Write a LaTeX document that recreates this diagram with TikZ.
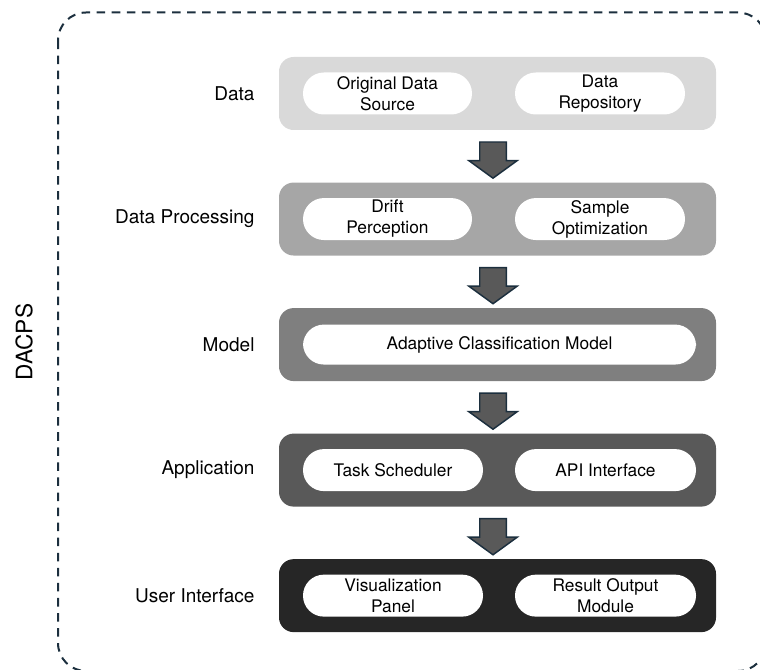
\documentclass[tikz,border=0pt]{standalone}
\usepackage{fontspec}
\setmainfont{TeX Gyre Heros}
\usetikzlibrary{positioning,shapes.arrows,calc}
\definecolor{layerA}{HTML}{D9D9D9}
\definecolor{layerB}{HTML}{A6A6A6}
\definecolor{layerC}{HTML}{7F7F7F}
\definecolor{layerD}{HTML}{595959}
\definecolor{layerE}{HTML}{262626}
\definecolor{frameline}{HTML}{1C2F3E}
\tikzset{
  layerbox/.style={draw=none,rounded corners=11pt,minimum width=327.75pt,minimum height=54.75pt,inner sep=0pt},
  pillbox/.style={fill=white,rounded corners=15.7pt,minimum height=31.5pt,inner sep=0pt,align=center,font=\fontsize{13}{15.75}\selectfont},
  layerlabel/.style={inner sep=0pt,font=\fontsize{14.25}{17}\selectfont},
  downarrow/.style={single arrow,shape border rotate=270,draw=frameline,fill=layerD,line width=1.1pt,minimum height=26.25pt,inner sep=9.4pt,single arrow head extend=8.2pt,single arrow tip angle=108},
  systemframe/.style={draw=frameline,line width=1.5pt,dash pattern=on 6.4pt off 4.9pt,rounded corners=21pt}
}

\begin{document}
\begin{tikzpicture}[x=0.75pt,y=-0.75pt,node distance=39pt]
  \useasboundingbox (0,0) rectangle (760,670);
  \clip (0,0) rectangle (760,670);

  % outer frame
  \draw [systemframe] (58,12.5) rectangle (766,671);
  \node [rotate=90,inner sep=0pt,font=\fontsize{17}{20}\selectfont] (sys) at (24,342) {DACPS};

  % layers
  \node [layerbox,fill=layerA] (L1) at (497.5,93.5) {};
  \node [layerbox,fill=layerB,below=of L1] (L2) {};
  \node [layerbox,fill=layerC,below=of L2] (L3) {};
  \node [layerbox,fill=layerD,below=of L3] (L4) {};
  \node [layerbox,fill=layerE,below=of L4] (L5) {};

  % layer names
  \node [layerlabel,left=18pt of L1.west] (t1) {Data};
  \node [layerlabel,left=18pt of L2.west] (t2) {Data Processing};
  \node [layerlabel,left=18pt of L3.west] (t3) {Model};
  \node [layerlabel,left=18pt of L4.west] (t4) {Application};
  \node [layerlabel,left=18pt of L5.west] (t5) {User Interface};

  % data
  \node [pillbox,minimum width=126.75pt,right=18pt of L1.west] (p1a) {Original Data\\Source};
  \node [pillbox,minimum width=127.5pt,right=177pt of L1.west] (p1b) {Data\\Repository};

  % data processing
  \node [pillbox,minimum width=126.75pt,right=18pt of L2.west] (p2a) {Drift\\Perception};
  \node [pillbox,minimum width=127.5pt,right=177pt of L2.west] (p2b) {Sample\\Optimization};

  % model
  \node [pillbox,minimum width=294.75pt,minimum height=30pt,right=18pt of L3.west] (p3) {Adaptive Classification Model};

  % application
  \node [pillbox,minimum width=135pt,right=18pt of L4.west] (p4a) {Task Scheduler};
  \node [pillbox,minimum width=135.75pt,right=177pt of L4.west] (p4b) {API Interface};

  % user interface
  \node [pillbox,minimum width=135pt,right=18pt of L5.west] (p5a) {Visualization\\Panel};
  \node [pillbox,minimum width=135.75pt,right=177pt of L5.west] (p5b) {Result Output\\Module};

  % flow between layers
  \foreach \a/\b in {1/2,2/3,3/4,4/5}
    \node [downarrow] (a\a) at ($(L\a.south)!0.5!(L\b.north)+(-4.5,-1)$) {};
\end{tikzpicture}
\end{document}
